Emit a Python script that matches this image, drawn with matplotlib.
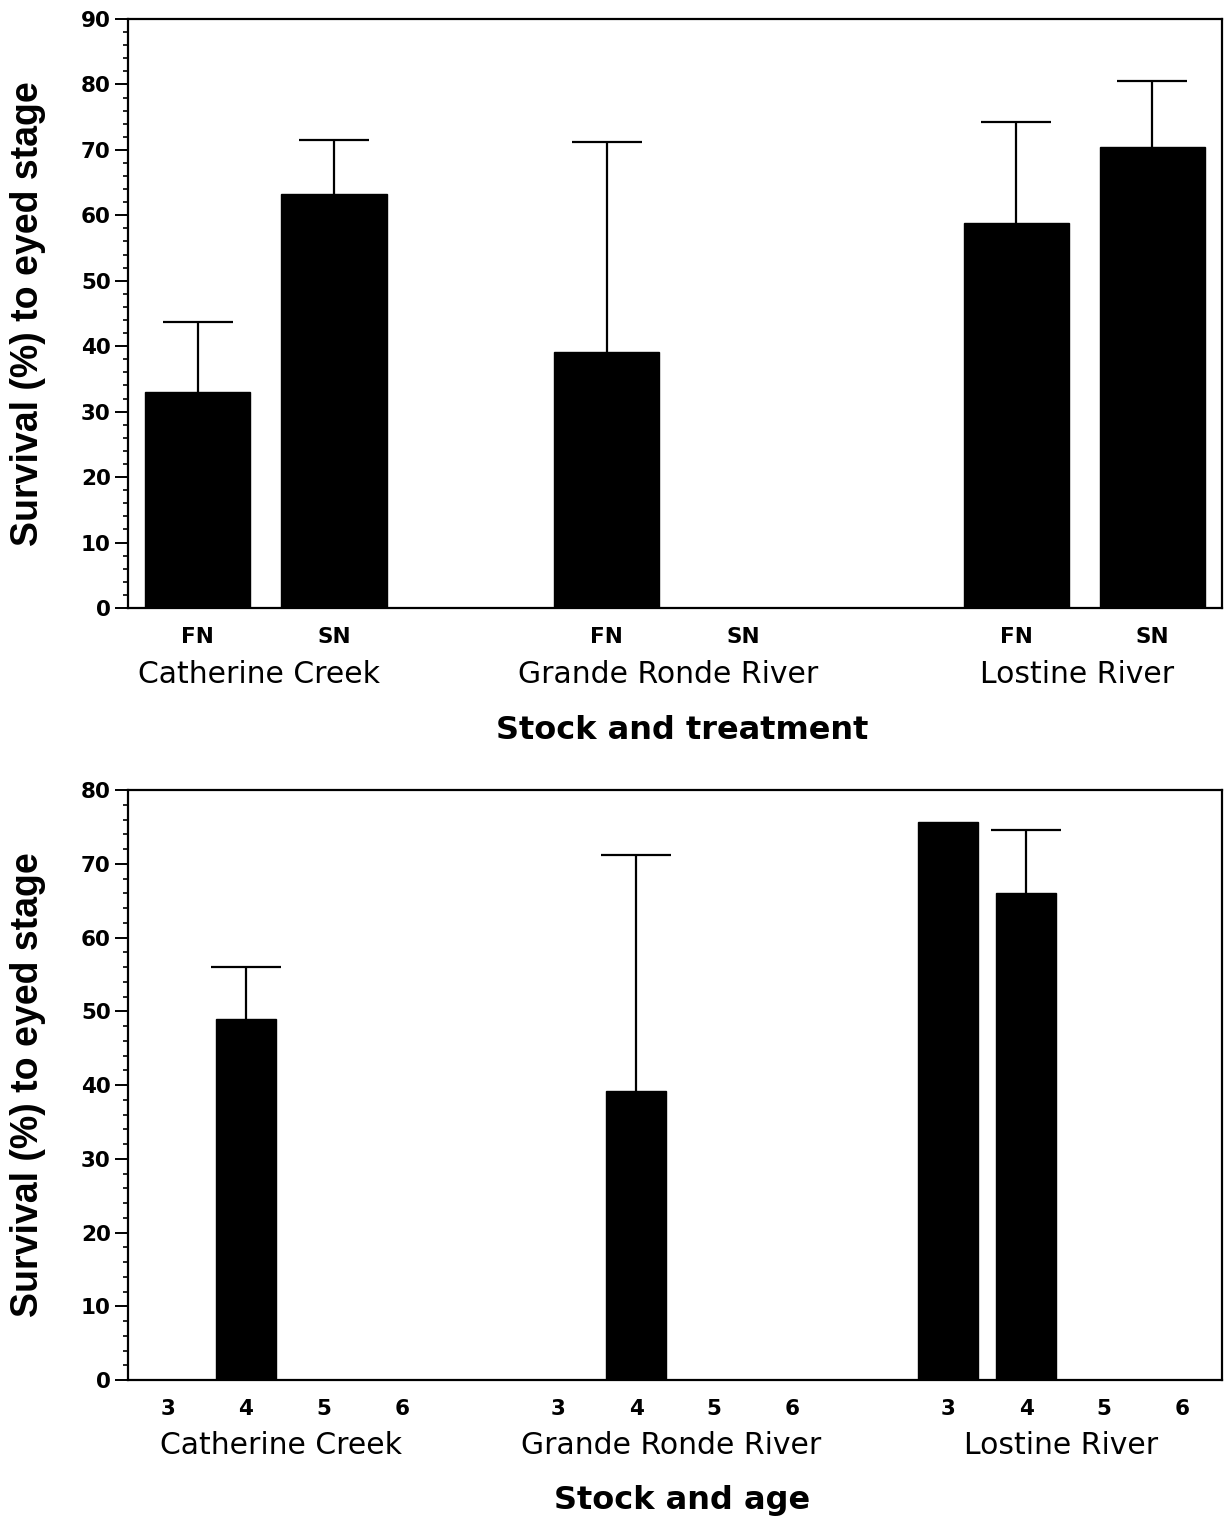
import numpy as np
import matplotlib
matplotlib.use("Agg")
import matplotlib.pyplot as plt
from matplotlib.ticker import MultipleLocator
from matplotlib.font_manager import FontProperties

# ---------------- data ----------------
stocks = ["Catherine Creek", "Grande Ronde River", "Lostine River"]

treatments = ["FN", "SN"]
treat_mean = [33.0, 63.3, 39.1, np.nan, 58.8, 70.4]
treat_err = [10.7, 8.2, 32.1, np.nan, 15.4, 10.2]

ages = ["3", "4", "5", "6"]
age_mean = [np.nan, 48.9, np.nan, np.nan,
            np.nan, 39.2, np.nan, np.nan,
            75.6, 66.0, np.nan, np.nan]
age_err = [np.nan, 7.1, np.nan, np.nan,
           np.nan, 32.0, np.nan, np.nan,
           np.nan, 8.6, np.nan, np.nan]

ylabel = "Survival (%) to eyed stage"
xlabel_top = "Stock and treatment"
xlabel_bottom = "Stock and age"

# ---------------- style ----------------
TICKFONT = dict(family="DejaVu Sans", weight="bold", size=15.5)
GROUPFONT = dict(family="DejaVu Sans", weight="normal", size=21.5)
XLABFONT = dict(family="DejaVu Sans", weight="bold", size=23)
YLABFONT = dict(family="Liberation Sans", weight="bold", size=27)

fig = plt.figure(figsize=(12.24, 15.21), dpi=100)
ax1 = fig.add_axes([0.1046, 0.6003, 0.8938, 0.3872])
ax2 = fig.add_axes([0.1046, 0.0927, 0.8938, 0.3879])


def group_positions(n_groups, n_per):
    pos = []
    for g in range(n_groups):
        for i in range(n_per):
            pos.append(g * (n_per + 1) + i)
    return np.array(pos, dtype=float)


def draw(ax, labels, means, errs, ymax, xlab, tick_off, group_off, xlab_off):
    n_per = len(labels)
    pos = group_positions(len(stocks), n_per)
    means = np.array(means, dtype=float)
    errs = np.array(errs, dtype=float)
    has = ~np.isnan(means)
    ax.bar(pos[has], means[has], width=0.77, color="black",
           edgecolor="black", linewidth=1.0, zorder=2)
    he = has & ~np.isnan(errs)
    yerr = np.vstack([np.zeros(he.sum()), errs[he]])
    eb = ax.errorbar(pos[he], means[he], yerr=yerr, fmt="none", ecolor="black",
                     elinewidth=1.6, capsize=25, capthick=1.6, zorder=1)
    # only the upper cap is shown
    eb[1][0].set_visible(False)

    ax.set_xlim(pos[0] - 0.51, pos[-1] + 0.51)
    ax.set_ylim(0, ymax)
    ax.yaxis.set_major_locator(MultipleLocator(10))
    ax.yaxis.set_minor_locator(MultipleLocator(2))
    for s in ax.spines.values():
        s.set_linewidth(1.6)
    ax.tick_params(axis="y", which="major", length=9.5, width=1.4,
                   direction="out", pad=3)
    ax.tick_params(axis="y", which="minor", length=3.5, width=1.2,
                   direction="out")
    for lab in ax.get_yticklabels():
        lab.set_fontproperties(FontProperties(**TICKFONT))
    ax.set_xticks(pos)
    ax.set_xticklabels(labels * len(stocks))
    for lab in ax.get_xticklabels():
        lab.set_fontproperties(FontProperties(**TICKFONT))
    ax.tick_params(axis="x", length=0, pad=tick_off)

    for g, name in enumerate(stocks):
        mid = g * (n_per + 1) + (n_per - 1) / 2.0 - 0.05
        ax.annotate(name, xy=(mid, 0), xycoords=("data", "axes fraction"),
                    xytext=(0, -group_off), textcoords="offset points",
                    ha="center", va="center", **GROUPFONT)
    ax.annotate(xlab, xy=(0.5, 0), xycoords="axes fraction",
                xytext=(5, -xlab_off), textcoords="offset points",
                ha="center", va="center", **XLABFONT)
    ax.annotate(ylabel, xy=(0, 0.5), xycoords="axes fraction",
                xytext=(-72, 0), textcoords="offset points",
                ha="center", va="center", rotation=90, **YLABFONT)


draw(ax1, treatments, treat_mean, treat_err, 90, xlabel_top, 14, 48, 88)
draw(ax2, ages, age_mean, age_err, 80, xlabel_bottom, 14, 47.5, 86.5)

fig.savefig("out.png", dpi=100)
